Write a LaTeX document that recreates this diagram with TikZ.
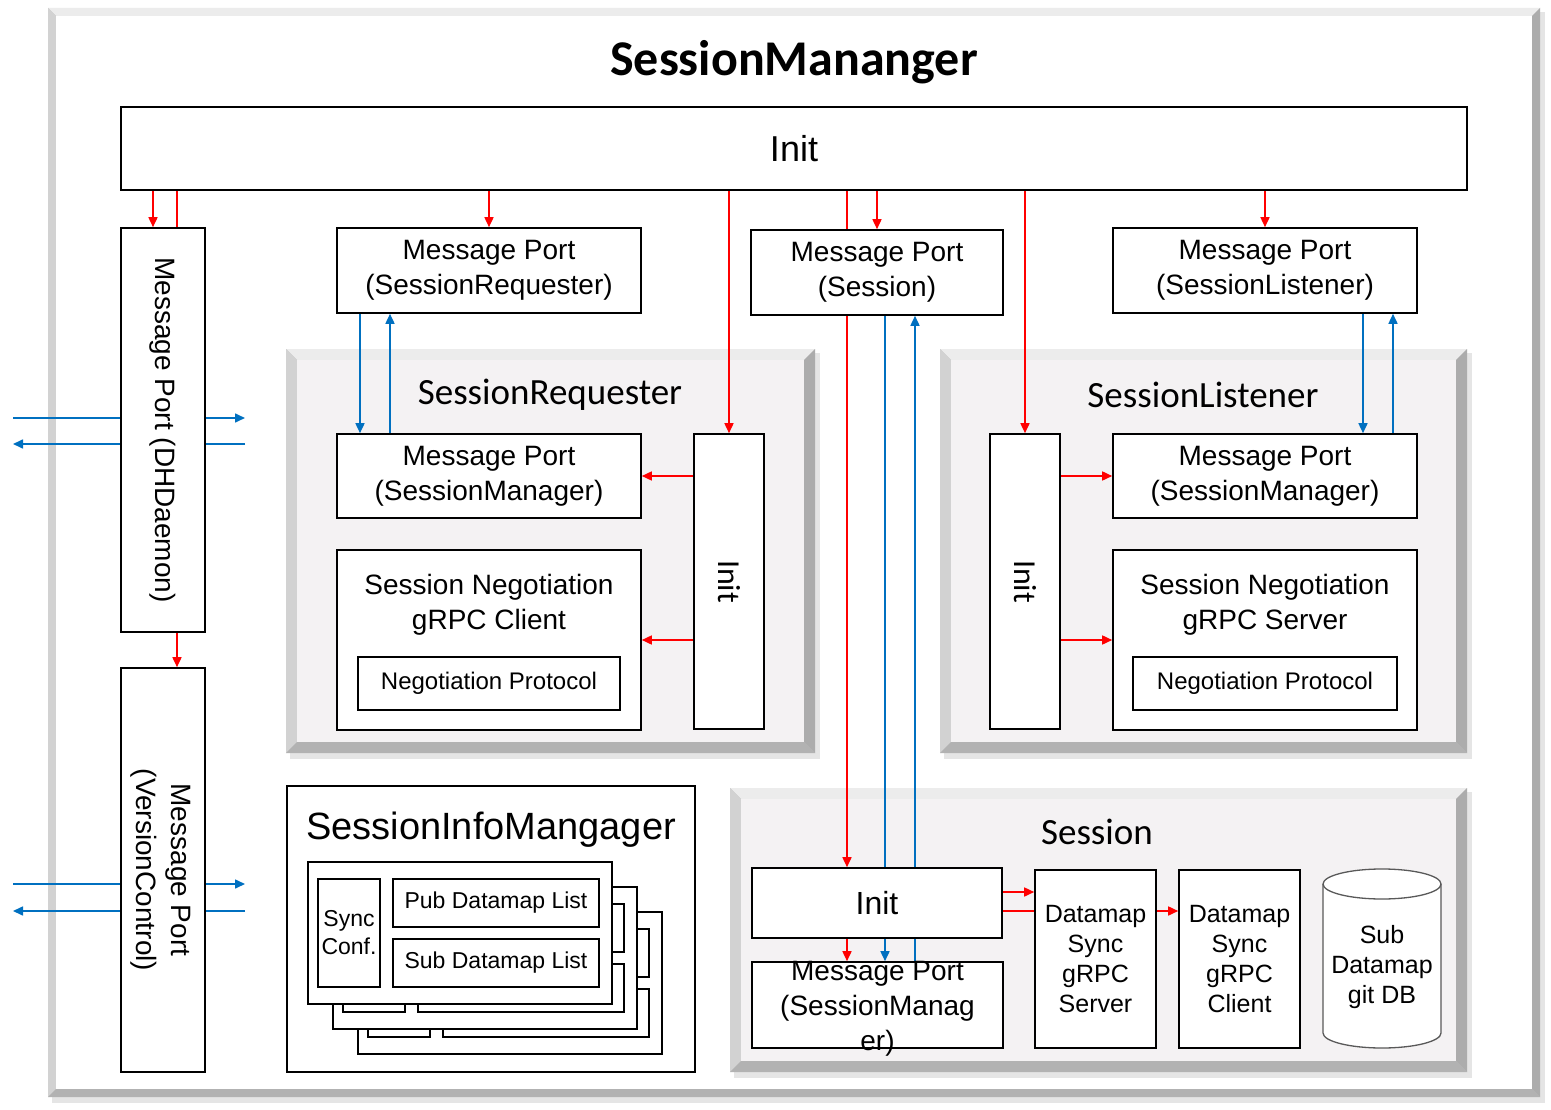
\documentclass[tikz,border=0pt]{standalone}
\usepackage{fontspec}
\setmainfont{Liberation Sans}
\newfontfamily\califont{Carlito}
\usetikzlibrary{arrows.meta}

\definecolor{arrred}{HTML}{FF0000}
\definecolor{arrblue}{HTML}{0070C0}
\definecolor{panelfill}{HTML}{F4F2F3}

\pgfdeclarelayer{back}
\pgfdeclarelayer{wires}
\pgfsetlayers{back,wires,main}

\tikzset{
  box/.style={draw, fill=white, line width=1.6pt, inner sep=0pt, align=center},
  thinbox/.style={box, line width=1.3pt},
  txt/.style={align=center, inner sep=0pt},
  fport/.style={font=\fontsize{28}{35}\selectfont},
  fsmall/.style={font=\fontsize{23}{28}\selectfont},
  fproto/.style={font=\fontsize{24}{28}\selectfont},
  fsync/.style={font=\fontsize{25}{30}\selectfont},
  fpanel/.style={font={\califont\fontsize{37}{44}\selectfont}},
  redline/.style={arrred, line width=1.6pt},
  redarr/.style={redline, -{Triangle[length=10pt,width=9pt]}},
  blueline/.style={arrblue, line width=1.6pt},
  bluearr/.style={blueline, -{Triangle[length=10pt,width=9pt]}}
}

% x1 y1 x2 y2 bevel fill
\newcommand{\bevelpanel}[6]{%
  \fill[black!10] (#1+4,#2+4) rectangle (#3+5,#4+6);
  \fill[gray!50] (#1,#2) rectangle (#3,#4);
  \fill[gray!15] (#1,#2) -- (#3,#2) -- (#3-#5,#2+#5) -- (#1+#5,#2+#5) -- cycle;
  \fill[gray!35] (#1,#2) -- (#1+#5,#2+#5) -- (#1+#5,#4-#5) -- (#1,#4) -- cycle;
  \fill[gray!65] (#3,#2) -- (#3-#5,#2+#5) -- (#3-#5,#4-#5) -- (#3,#4) -- cycle;
  \fill[gray!60] (#1,#4) -- (#1+#5,#4-#5) -- (#3-#5,#4-#5) -- (#3,#4) -- cycle;
  \fill[#6] (#1+#5,#2+#5) rectangle (#3-#5,#4-#5);
}

\begin{document}
\begin{tikzpicture}[x=1pt, y=-1pt]
  \useasboundingbox (0,0) rectangle (1551,1110);

  % frames
  \begin{pgfonlayer}{back}
    \fill[white] (0,0) rectangle (1551,1110);
    \bevelpanel{48}{8}{1540}{1097}{8}{white}
    \bevelpanel{286}{349}{815}{753}{11}{panelfill}
    \bevelpanel{940}{349}{1467}{753}{11}{panelfill}
    \bevelpanel{730}{788}{1467}{1072}{11}{panelfill}
  \end{pgfonlayer}

  \node[font={\califont\bfseries\fontsize{50}{56}\selectfont}] (title) at (794,62) {SessionMananger};
  \node[box, minimum width=1346pt, minimum height=83pt, font=\fontsize{36}{40}\selectfont] (init) at (794,148.5) {Init};

  % left ports
  \node[box, minimum width=84pt, minimum height=404pt] (mpDaemon) at (163,430) {};
  \node[txt, fport, rotate=-90] at (mpDaemon.center) {Message Port (DHDaemon)};
  \node[box, minimum width=84pt, minimum height=404pt] (mpVersion) at (163,870) {};
  \node[txt, fport, rotate=-90] at (161,870) {Message Port\\(VersionControl)};

  % top ports
  \node[box, fport, minimum width=304pt, minimum height=85pt] (mpReq) at (489,270.5) {Message Port\\(SessionRequester)};
  \node[box, fport, minimum width=252pt, minimum height=85pt] (mpSess) at (877,272.5) {Message Port\\(Session)};
  \node[box, fport, minimum width=304pt, minimum height=85pt] (mpLis) at (1265,270.5) {Message Port\\(SessionListener)};

  % SessionRequester
  \node[fpanel] (reqTitle) at (550,395) {SessionRequester};
  \node[box, fport, minimum width=304pt, minimum height=84pt] (rqPort) at (489,476) {Message Port\\(SessionManager)};
  \node[box, minimum width=304pt, minimum height=180pt] (rqClient) at (489,640) {};
  \node[txt, fport] at (489,605) {Session Negotiation\\gRPC Client};
  \node[thinbox, fproto, minimum width=262pt, minimum height=53pt] (rqProto) at (489,683.5) {Negotiation Protocol};
  \node[box, minimum width=70pt, minimum height=295pt] (rqInit) at (729,581.5) {};
  \node[txt, rotate=-90, font={\califont\fontsize{32}{36}\selectfont}] at (rqInit.center) {Init};

  % SessionListener
  \node[fpanel] (lisTitle) at (1203,395) {SessionListener};
  \node[box, minimum width=70pt, minimum height=295pt] (lsInit) at (1025,581.5) {};
  \node[txt, rotate=-90, font={\califont\fontsize{32}{36}\selectfont}] at (lsInit.center) {Init};
  \node[box, fport, minimum width=304pt, minimum height=84pt] (lsPort) at (1265,476) {Message Port\\(SessionManager)};
  \node[box, minimum width=304pt, minimum height=180pt] (lsServer) at (1265,640) {};
  \node[txt, fport] at (1265,605) {Session Negotiation\\gRPC Server};
  \node[thinbox, fproto, minimum width=264pt, minimum height=53pt] (lsProto) at (1265,683.5) {Negotiation Protocol};

  % SessionInfoMangager
  \node[box, minimum width=408pt, minimum height=286pt] (infoMgr) at (491,929) {};
  \node[txt, font=\fontsize{38}{44}\selectfont] (infoTitle) at (491,830) {SessionInfoMangager};
  \foreach \d in {50,25}{
    \node[thinbox, minimum width=304pt, minimum height=142pt] (card\d) at (460+\d,933+\d) {};
    \node[thinbox, minimum width=62pt, minimum height=108pt] (sync\d) at (349+\d,933+\d) {};
    \node[thinbox, minimum width=206pt, minimum height=48pt] (pub\d) at (496+\d,903+\d) {};
    \node[thinbox, minimum width=206pt, minimum height=48pt] (sub\d) at (496+\d,963+\d) {};
  }
  \node[thinbox, minimum width=304pt, minimum height=142pt] (card) at (460,933) {};
  \node[thinbox, fsmall, minimum width=62pt, minimum height=108pt] (sync) at (349,933) {Sync\\Conf.};
  \node[thinbox, fsmall, minimum width=206pt, minimum height=48pt] (pub) at (496,903) {Pub Datamap List};
  \node[thinbox, fsmall, minimum width=206pt, minimum height=48pt] (sub) at (496,963) {Sub Datamap List};

  % Session
  \node[fpanel] (sessTitle) at (1097,832) {Session};
  \node[box, minimum width=250pt, minimum height=70pt, font=\fontsize{32}{36}\selectfont] (ssInit) at (877,903) {Init};
  \node[box, minimum width=251pt, minimum height=86pt] (ssPort) at (877.5,1005) {};
  \node[txt, fport] at (877.5,1009) {Message Port\\(SessionManag\\er)};
  \node[box, fsync, minimum width=121pt, minimum height=178pt] (dsServer) at (1095.5,959) {Datamap\\Sync\\gRPC\\Server};
  \node[box, fsync, minimum width=121pt, minimum height=178pt] (dsClient) at (1239.5,959) {Datamap\\Sync\\gRPC\\Client};
  % git DB drum
  \draw[fill=white, draw=black!65, line width=1.3pt] (1323,884) -- (1323,1033)
    arc[start angle=180, end angle=0, x radius=59, y radius=15] -- (1441,884)
    arc[start angle=0, end angle=-180, x radius=59, y radius=15] -- cycle;
  \draw[draw=black!65, line width=1.3pt] (1323,884) arc[start angle=180, end angle=0, x radius=59, y radius=15];
  \node[txt, fsync] (subDB) at (1382,967) {Sub\\Datamap\\git DB};

  \coordinate (extL) at (13,0);
  \coordinate (extR) at (245,0);

  \begin{pgfonlayer}{wires}
    % from Init
    \draw[redarr] ([xshift=-10pt]mpDaemon.north |- init.south) -- ([xshift=-10pt]mpDaemon.north);
    \draw[redline] ([xshift=14pt]mpDaemon.north |- init.south) -- ([xshift=14pt]mpDaemon.north);
    \draw[redarr] ([xshift=14pt]mpDaemon.south) -- ([xshift=14pt]mpVersion.north);
    \draw[redarr] (mpReq.north |- init.south) -- (mpReq.north);
    \draw[redarr] (rqInit.north |- init.south) -- (rqInit.north);
    \draw[redarr] ([xshift=-30pt]ssInit.north |- init.south) -- ([xshift=-30pt]ssInit.north);
    \draw[redarr] (mpSess.north |- init.south) -- (mpSess.north);
    \draw[redarr] (lsInit.north |- init.south) -- (lsInit.north);
    \draw[redarr] (mpLis.north |- init.south) -- (mpLis.north);
    % outside
    \draw[bluearr] ([yshift=12pt]extL |- mpDaemon.center) -- ([yshift=12pt]extR |- mpDaemon.center);
    \draw[bluearr] ([yshift=-14pt]extR |- mpDaemon.center) -- ([yshift=-14pt]extL |- mpDaemon.center);
    \draw[bluearr] ([yshift=-14pt]extL |- mpVersion.center) -- ([yshift=-14pt]extR |- mpVersion.center);
    \draw[bluearr] ([yshift=-41pt]extR |- mpVersion.center) -- ([yshift=-41pt]extL |- mpVersion.center);
    % requester
    \draw[bluearr] ([xshift=-129pt]mpReq.south) -- ([xshift=-129pt]mpReq.south |- rqPort.north);
    \draw[bluearr] ([xshift=-99pt]mpReq.south |- rqPort.north) -- ([xshift=-99pt]mpReq.south);
    \draw[redarr] (rqInit.west |- rqPort.east) -- (rqPort.east);
    \draw[redarr] (rqInit.west |- rqClient.east) -- (rqClient.east);
    % listener
    \draw[bluearr] ([xshift=98pt]mpLis.south) -- ([xshift=98pt]mpLis.south |- lsPort.north);
    \draw[bluearr] ([xshift=128pt]mpLis.south |- lsPort.north) -- ([xshift=128pt]mpLis.south);
    \draw[redarr] (lsInit.east |- lsPort.west) -- (lsPort.west);
    \draw[redarr] (lsInit.east |- lsServer.west) -- (lsServer.west);
    % session
    \draw[bluearr] ([xshift=8pt]mpSess.south) -- ([xshift=8pt]mpSess.south |- ssPort.north);
    \draw[bluearr] ([xshift=38pt]mpSess.south |- ssPort.north) -- ([xshift=38pt]mpSess.south);
    \draw[redarr] ([xshift=-30pt]ssInit.south) -- ([xshift=-30pt]ssInit.south |- ssPort.north);
    \draw[redarr] ([yshift=11pt]ssInit.east) -- ([yshift=11pt]ssInit.east -| dsServer.west);
    \draw[redline] ([yshift=-8pt]ssInit.east) -- ([yshift=-8pt]ssInit.east -| dsServer.west);
    \draw[redarr] ([yshift=48pt]dsServer.east) -- ([yshift=48pt]dsServer.east -| dsClient.west);
  \end{pgfonlayer}
\end{tikzpicture}
\end{document}
